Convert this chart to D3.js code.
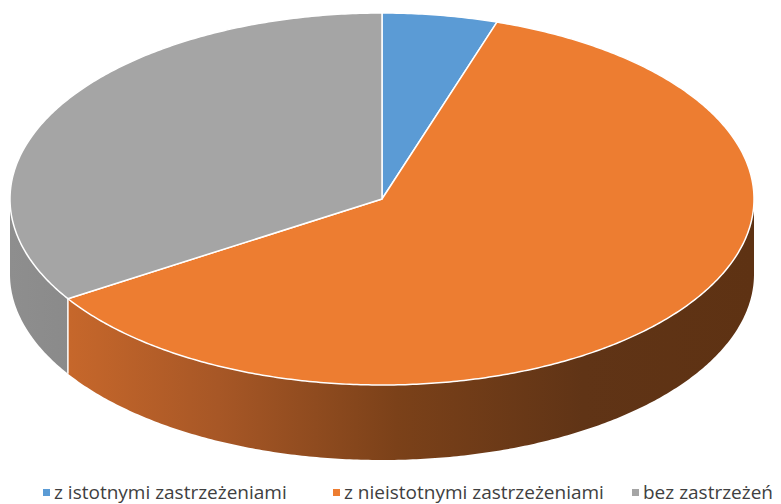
<!DOCTYPE html>
<html>
<head>
<meta charset="utf-8">
<script src="https://cdn.jsdelivr.net/npm/d3@7"></script>
<style>
  body { margin: 0; background: #fff; overflow: hidden; }
  svg { display: block; }
</style>
</head>
<body>
<div id="chart"></div>
<script>
var categories = ["z istotnymi zastrzeżeniami", "z nieistotnymi zastrzeżeniami", "bez zastrzeżeń"];
var values = [5, 61, 34];
var topColors = ["#5B9BD5", "#ED7D31", "#A5A5A5"];

var width = 781, height = 504;
var cx = 382, cy = 199, rx = 372, ry = 186, depth = 75;

var svg = d3.select("#chart")
  .append("svg")
    .attr("width", width)
    .attr("height", height);

var defs = svg.append("defs");

// side shading, lighter on the left, dark on the right
var sideStops = [
  [["0%", "#7AAEDC"], ["100%", "#2E5A85"]],
  [["0%", "#CC6B2C"], ["8%", "#C6672B"], ["28%", "#A75726"], ["52%", "#7B4119"], ["77%", "#603416"], ["100%", "#5E3213"]],
  [["0%", "#8E8E8E"], ["100%", "#5E5E5E"]]
];
sideStops.forEach(function(stops, i) {
  var g = defs.append("linearGradient")
    .attr("id", "side" + i)
    .attr("gradientUnits", "userSpaceOnUse")
    .attr("x1", cx - rx).attr("x2", cx + rx)
    .attr("y1", 0).attr("y2", 0);
  stops.forEach(function(s) {
    g.append("stop").attr("offset", s[0]).attr("stop-color", s[1]);
  });
});

var pie = d3.pie().sort(null).value(function(d) { return d; });
var arcs = pie(values);

function px(a) { return cx + rx * Math.sin(a); }
function py(a, dy) { return cy - ry * Math.cos(a) + (dy || 0); }

function arcPoints(a0, a1, dy) {
  var n = Math.max(2, Math.ceil(Math.abs(a1 - a0) / 0.01));
  var pts = [];
  for (var k = 0; k <= n; k++) {
    var a = a0 + (a1 - a0) * k / n;
    pts.push([px(a), py(a, dy)]);
  }
  return pts;
}

function topPath(d) {
  var pts = [[cx, cy]].concat(arcPoints(d.startAngle, d.endAngle, 0));
  return "M" + pts.map(function(p) { return p[0] + "," + p[1]; }).join("L") + "Z";
}

function sidePath(d) {
  var a0 = Math.max(d.startAngle, Math.PI / 2);
  var a1 = Math.min(d.endAngle, 3 * Math.PI / 2);
  if (a1 <= a0) return null;
  var pts = arcPoints(a0, a1, 0).concat(arcPoints(a1, a0, depth));
  return "M" + pts.map(function(p) { return p[0] + "," + p[1]; }).join("L") + "Z";
}

// sides
svg.append("g").selectAll("path")
  .data(arcs.filter(function(d) { return sidePath(d); }))
  .enter().append("path")
    .attr("d", sidePath)
    .attr("fill", function(d) { return "url(#side" + d.index + ")"; });

// vertical seams on the side
svg.append("g").selectAll("line")
  .data(arcs.filter(function(d) {
    return d.startAngle > Math.PI / 2 && d.startAngle < 3 * Math.PI / 2;
  }))
  .enter().append("line")
    .attr("x1", function(d) { return px(d.startAngle); })
    .attr("x2", function(d) { return px(d.startAngle); })
    .attr("y1", function(d) { return py(d.startAngle, 0); })
    .attr("y2", function(d) { return py(d.startAngle, depth); })
    .attr("stroke", "#fff")
    .attr("stroke-width", 1.5);

// top faces
svg.append("g").selectAll("path")
  .data(arcs)
  .enter().append("path")
    .attr("d", topPath)
    .attr("fill", function(d, i) { return topColors[i]; })
    .attr("stroke", "#fff")
    .attr("stroke-width", 1.5)
    .attr("stroke-linejoin", "round");

// legend
var legendX = [43, 333, 632];
var legend = svg.append("g").selectAll("g")
  .data(categories)
  .enter().append("g")
    .attr("transform", function(d, i) { return "translate(" + legendX[i] + ",492)"; });

legend.append("rect")
  .attr("x", 0).attr("y", -3)
  .attr("width", 7).attr("height", 7)
  .attr("fill", function(d, i) { return topColors[i]; });

legend.append("text")
  .attr("x", 11)
  .attr("y", 7)
  .attr("font-family", "Open Sans, sans-serif")
  .attr("font-size", 19)
  .attr("fill", "#404040")
  .text(function(d) { return d; });
</script>
</body>
</html>
